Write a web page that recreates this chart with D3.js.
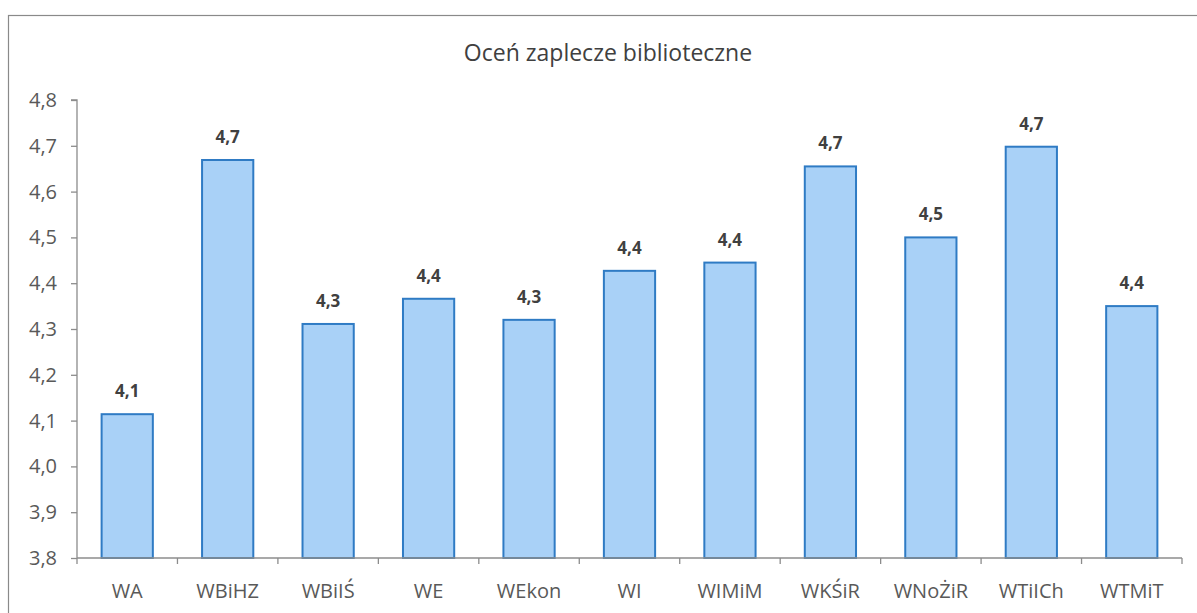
<!DOCTYPE html>
<html lang="pl">
<head>
<meta charset="UTF-8">
<title>Oceń zaplecze biblioteczne</title>
<script src="https://cdn.jsdelivr.net/npm/d3@7"></script>
<style>
    body { margin: 0; background: #fff; }
    .axis path, .axis line { fill: none; stroke: #8c8c8c; stroke-width: 1.3; }
    .axis text { font-family: 'Open Sans'; font-size: 20px; fill: #595959; }
    .bar { fill: #a9d1f7; stroke: #2f7bc4; stroke-width: 2; }
    .label { font-family: 'Open Sans'; font-weight: bold; font-size: 17px; fill: #404040; }
    .title { font-family: 'Open Sans'; font-size: 23px; fill: #404040; }
</style>
</head>
<body>
<svg id="img" width="1197" height="613"></svg>
<script>
    var categories = ["WA", "WBiHZ", "WBiIŚ", "WE", "WEkon", "WI", "WIMiM", "WKŚiR", "WNoŻiR", "WTiICh", "WTMiT"];
    var values = [4.114, 4.669, 4.311, 4.366, 4.32, 4.427, 4.445, 4.655, 4.5, 4.698, 4.35];
    var labels = ["4,1", "4,7", "4,3", "4,4", "4,3", "4,4", "4,4", "4,7", "4,5", "4,7", "4,4"];
    var yTicks = [3.8, 3.9, 4.0, 4.1, 4.2, 4.3, 4.4, 4.5, 4.6, 4.7, 4.8];
    var title = "Oceń zaplecze biblioteczne";

    var vis = d3.select("#img"),
        MARGINS = { top: 100, bottom: 558, left: 77, right: 1182 };

    // outer frame of the chart area
    vis.append("rect")
        .attr("x", 8.5).attr("y", 15.5)
        .attr("width", 1200).attr("height", 620)
        .attr("fill", "none").attr("stroke", "#8a8a8a").attr("stroke-width", 1.2);

    var xRange = d3.scaleBand()
        .domain(categories)
        .range([MARGINS.left, MARGINS.right])
        .paddingInner(0.49)
        .paddingOuter(0.245);

    var yRange = d3.scaleLinear()
        .domain([3.8, 4.8])
        .range([MARGINS.bottom, MARGINS.top]);

    var fmt = function (d) { return d3.format(".1f")(d).replace(".", ","); };

    var yAxis = d3.axisLeft(yRange).tickValues(yTicks).tickFormat(fmt).tickSize(6).tickPadding(14);
    vis.append("g")
        .attr("class", "y axis")
        .attr("transform", "translate(" + MARGINS.left + ",0)")
        .call(yAxis)
        .call(function (g) { g.select(".domain").attr("d", "M-6," + MARGINS.top + "H0V" + MARGINS.bottom); });

    // bars
    vis.selectAll(".bar")
        .data(values)
        .enter().append("rect")
        .attr("class", "bar")
        .attr("x", function (d, i) { return xRange(categories[i]); })
        .attr("width", xRange.bandwidth())
        .attr("y", function (d) { return yRange(d); })
        .attr("height", function (d) { return yRange(3.8) - yRange(d); });

    // x axis with ticks between categories
    var step = xRange.step();
    var xg = vis.append("g").attr("class", "x axis");
    xg.append("path")
        .attr("d", "M" + MARGINS.left + "," + MARGINS.bottom + "H" + MARGINS.right);
    xg.selectAll("line")
        .data(d3.range(categories.length + 1))
        .enter().append("line")
        .attr("x1", function (i) { return MARGINS.left + i * step; })
        .attr("x2", function (i) { return MARGINS.left + i * step; })
        .attr("y1", MARGINS.bottom).attr("y2", MARGINS.bottom + 6);
    xg.selectAll("text")
        .data(categories)
        .enter().append("text")
        .attr("x", function (d) { return xRange(d) + xRange.bandwidth() / 2; })
        .attr("y", 598)
        .attr("text-anchor", "middle")
        .text(function (d) { return d; });

    // value labels
    vis.selectAll(".label")
        .data(values)
        .enter().append("text")
        .attr("class", "label")
        .attr("x", function (d, i) { return xRange(categories[i]) + xRange.bandwidth() / 2; })
        .attr("y", function (d) { return yRange(d) - 17; })
        .attr("text-anchor", "middle")
        .text(function (d, i) { return labels[i]; });

    vis.append("text")
        .attr("class", "title")
        .attr("x", 608).attr("y", 61)
        .attr("text-anchor", "middle")
        .text(title);
</script>
</body>
</html>
